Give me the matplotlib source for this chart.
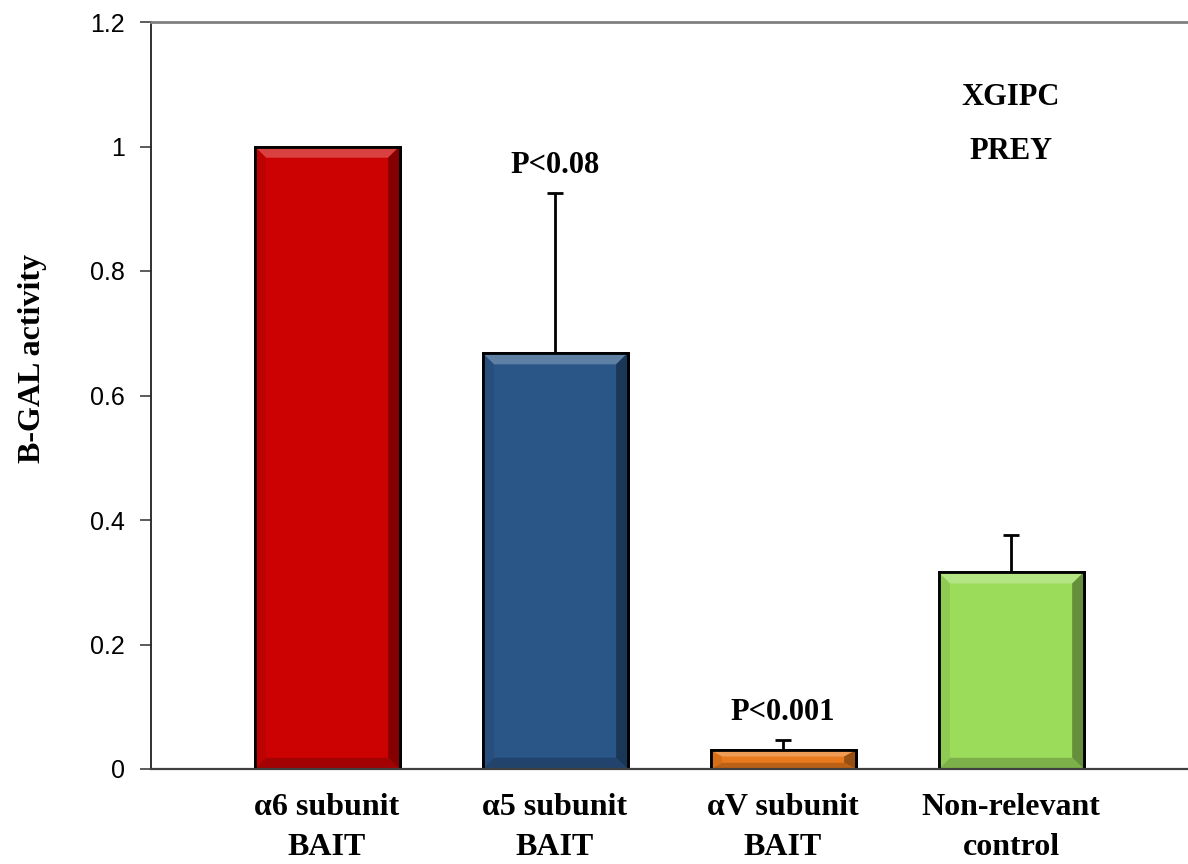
import numpy as np
import matplotlib
matplotlib.use("Agg")
import matplotlib.pyplot as plt
from matplotlib.patches import Polygon
from matplotlib.ticker import FormatStrFormatter

# data
labels = ["\u03b16 subunit\nBAIT", "\u03b15 subunit\nBAIT",
          "\u03b1V subunit\nBAIT", "Non-relevant\ncontrol"]
values = [1.0, 0.668, 0.030, 0.316]
errors = [0.0, 0.257, 0.016, 0.060]
colors = ["#CC0202", "#2A5587", "#E8791C", "#9BDC5B"]
p_texts = ["", "P<0.08", "P<0.001", ""]
y_ticks = [0, 0.2, 0.4, 0.6, 0.8, 1.0, 1.2]

serif = ["Liberation Serif", "DejaVu Serif"]


def shade(c, f):
    rgb = np.array(matplotlib.colors.to_rgb(c))
    if f > 0:
        rgb = rgb + (1 - rgb) * f
    else:
        rgb = rgb * (1 + f)
    return tuple(np.clip(rgb, 0, 1))


fig = plt.figure(figsize=(11.88, 8.64), dpi=100)
ax = fig.add_axes([151 / 1188, 95 / 864, 1 - 151 / 1188, (769 - 22) / 864])

x = np.arange(len(values))
width = 0.636
bars = ax.bar(x, values, width=width, color=colors, edgecolor="black",
              linewidth=2, zorder=2)

# simple bevel look: light top edge, dark right edge
for b, c in zip(bars, colors):
    x0, w, h = b.get_x(), b.get_width(), b.get_height()
    bx = min(0.05, w / 4)
    by = min(0.018, h / 3)
    top = Polygon([(x0, h), (x0 + w, h), (x0 + w - bx, h - by), (x0 + bx, h - by)],
                  closed=True, facecolor=shade(c, 0.25), edgecolor="none", zorder=2.1)
    right = Polygon([(x0 + w, h), (x0 + w, 0), (x0 + w - bx, by), (x0 + w - bx, h - by)],
                    closed=True, facecolor=shade(c, -0.35), edgecolor="none", zorder=2.1)
    bottom = Polygon([(x0, 0), (x0 + w, 0), (x0 + w - bx, by), (x0 + bx, by)],
                     closed=True, facecolor=shade(c, -0.2), edgecolor="none", zorder=2.1)
    left = Polygon([(x0, 0), (x0, h), (x0 + bx, h - by), (x0 + bx, by)],
                   closed=True, facecolor=shade(c, -0.08), edgecolor="none", zorder=2.1)
    for p in (top, right, bottom, left):
        ax.add_patch(p)
    ax.add_patch(plt.Rectangle((x0, 0), w, h, fill=False, edgecolor="black",
                               linewidth=2, zorder=2.2))

# upward-only error bars
err_x = [i for i, e in enumerate(errors) if e > 0]
ax.errorbar(err_x, [values[i] for i in err_x],
            yerr=[[0] * len(err_x), [errors[i] for i in err_x]],
            fmt="none", ecolor="black", elinewidth=2, capsize=5.5, capthick=2,
            zorder=1.5)

for i, t in enumerate(p_texts):
    if t:
        ypos = values[i] + errors[i] + (0.045 if i == 1 else 0.044)
        ax.text(i, ypos, t, ha="center", va="center", fontsize=22,
                fontweight="bold", family=serif)

ax.text(3, 1.078, "XGIPC", ha="center", va="center", fontsize=22,
        fontweight="bold", family=serif)
ax.text(3, 0.992, "PREY", ha="center", va="center", fontsize=22,
        fontweight="bold", family=serif)

ax.set_xlim(-0.772, 3.776)
ax.set_ylim(0, 1.2)
ax.set_yticks(y_ticks)
ax.yaxis.set_major_formatter(FormatStrFormatter("%g"))
ax.set_xticks(x)
ax.set_xticklabels(labels, fontsize=23, fontweight="bold", family=serif,
                   linespacing=1.5)
ax.tick_params(axis="x", length=0, pad=17)
ax.tick_params(axis="y", direction="out", length=8, width=1.2, labelsize=18,
               pad=11, color="#404040")
for lab in ax.get_yticklabels():
    lab.set_family(["Liberation Sans", "DejaVu Sans"])

ax.set_ylabel("B-GAL activity", fontsize=23, fontweight="bold", family=serif)
ax.yaxis.set_label_coords(-0.1, 0.55)

ax.spines["right"].set_visible(False)
ax.spines["top"].set_color("#808080")
ax.spines["top"].set_linewidth(2)
ax.spines["left"].set_color("#202020")
ax.spines["left"].set_linewidth(1.3)
ax.spines["bottom"].set_color("#404040")
ax.spines["bottom"].set_linewidth(1.6)

fig.savefig("out.png", dpi=100)
